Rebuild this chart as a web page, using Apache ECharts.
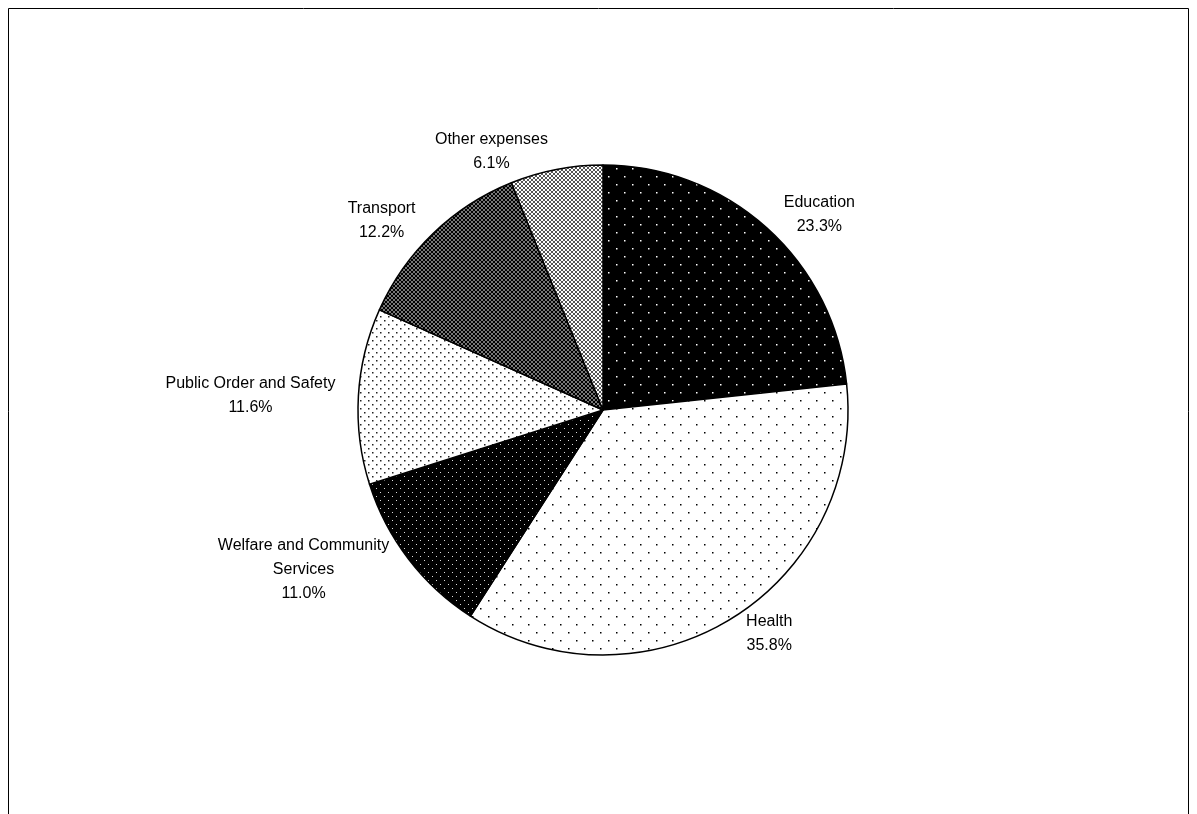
<!DOCTYPE html>
<html>
<head>
<meta charset="UTF-8">
<script src="https://cdn.jsdelivr.net/npm/echarts@6/dist/echarts.min.js"></script>
<style>body{margin:0;background:#fff}#c{width:1197px;height:814px}</style>
</head>
<body>
<div id="c"></div>
<script>
var names = ['Education', 'Health', 'Welfare and Community\nServices', 'Public Order and Safety', 'Transport', 'Other expenses'];
var values = [23.3, 35.8, 11.0, 11.6, 12.2, 6.1];

function dots(bg, fg, step, r) {
  var c = document.createElement('canvas');
  c.width = c.height = step * 2;
  var g = c.getContext('2d');
  g.fillStyle = bg; g.fillRect(0, 0, c.width, c.height);
  g.fillStyle = fg;
  [[0, 0], [step, step]].forEach(function (p) {
    g.fillRect(p[0], p[1], r, r);
  });
  return c;
}
function hatch(bg, fg, light) {
  var c = document.createElement('canvas');
  c.width = c.height = 4;
  var g = c.getContext('2d');
  g.fillStyle = bg; g.fillRect(0, 0, 4, 4);
  g.fillStyle = fg;
  for (var i = 0; i < 4; i++) { g.fillRect(i, i, 1, 1); g.fillRect(3 - i, i, 1, 1); }
  if (light) { g.fillStyle = '#fff'; g.fillRect(2, 0, 1, 1); g.fillRect(0, 2, 1, 1); }
  return c;
}
var fills = [
  dots('#000', '#fff', 8, 1.5),
  dots('#fff', '#000', 8, 1.5),
  dots('#000', '#ddd', 4, 1),
  dots('#fff', '#222', 4, 1.5),
  hatch('#777', '#000', false),
  hatch('#fff', '#555', true)
];

var data = values.map(function (v, i) {
  return { name: names[i], value: v, itemStyle: { color: { image: fills[i], repeat: 'repeat' } } };
});

var chart = echarts.init(document.getElementById('c'));
chart.setOption({
  animation: false,
  graphic: [{ type: 'rect', shape: { x: 8.5, y: 8.5, width: 1180, height: 900 }, style: { fill: 'none', stroke: '#000', lineWidth: 1 } }],
  series: [{
    type: 'pie',
    center: [603, 410],
    radius: 245,
    startAngle: 90,
    clockwise: true,
    itemStyle: { borderColor: '#000', borderWidth: 1.5 },
    label: {
      position: 'outside',
      formatter: function (p) { return p.name + '\n' + p.value.toFixed(1) + '%'; },
      fontFamily: 'Liberation Sans, Arial', fontSize: 16, color: '#000', lineHeight: 24, align: 'center'
    },
    labelLine: { show: false, length: 18, length2: 0 },
    labelLayout: function (p) {
      var r = p.labelRect;
      return { x: r.x + r.width / 2, y: r.y + r.height / 2, align: 'center', verticalAlign: 'middle' };
    },
    emphasis: { disabled: true },
    data: data
  }]
});
</script>
</body>
</html>
